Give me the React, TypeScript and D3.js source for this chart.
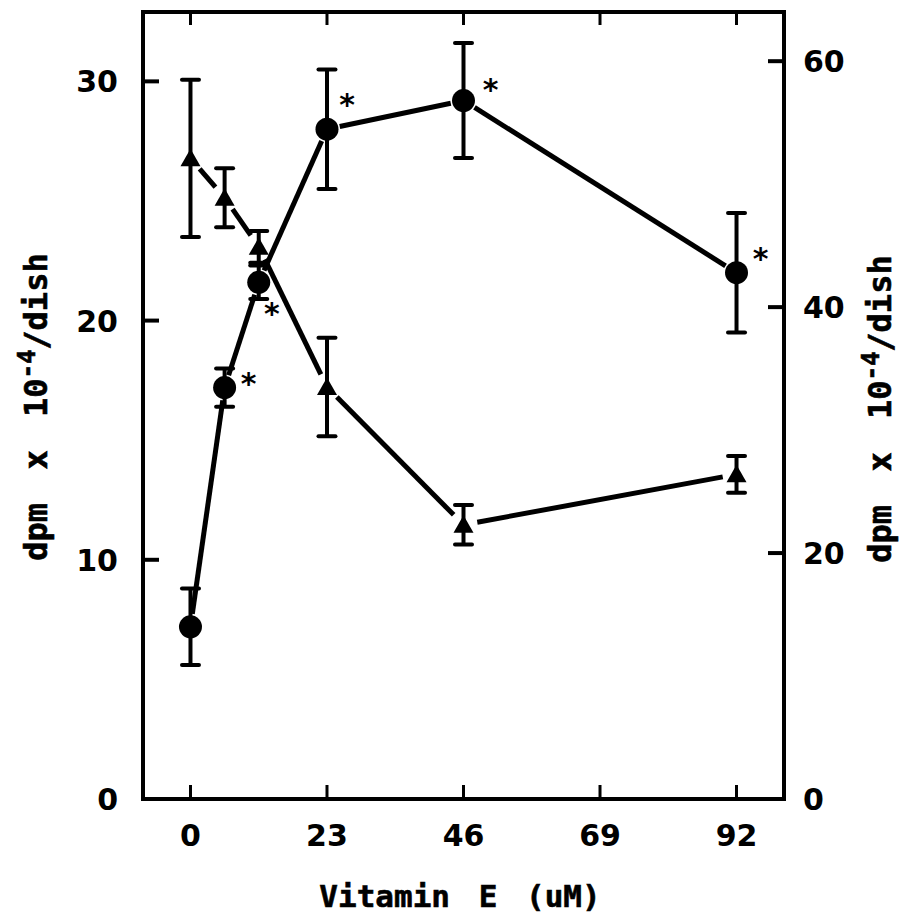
import React from "react";
import * as d3 from "d3";

// ---- data ----
const doses = [0, 5.75, 11.5, 23, 46, 92];
const circleMean = [7.2, 17.2, 21.6, 28.0, 29.2, 22.0]; // left axis
const circleErr = [1.6, 0.8, 0.7, 2.5, 2.4, 2.5];
const circleSig = [false, true, true, true, true, true];
const triMean = [52.1, 48.9, 44.9, 33.5, 22.3, 26.4]; // right axis
const triErr = [6.4, 2.4, 1.3, 4.0, 1.6, 1.5];
const xTicks = [0, 23, 46, 69, 92];
const yLeftTicks = [0, 10, 20, 30];
const yRightTicks = [0, 20, 40, 60];

const W = 904;
const H = 922;
const L = 143, R = 784, T = 12, B = 799;

const x = d3.scaleLinear().domain([-8, 100]).range([L, R]);
const yL = d3.scaleLinear().domain([0, 32.9]).range([B, T]);
const yR = d3.scaleLinear().domain([0, 64]).range([B, T]);

// asterisk offsets relative to the circle marker (px)
const starOffsets: [number, number][] = [
  [0, 0], [24, -12], [13, 24], [20, -32], [27, -19], [24, -22],
];

const TICK_FONT = "'DejaVu Sans', sans-serif";
const TITLE_FONT = "'DejaVu Sans Mono', 'DejaVu Sans', monospace";

function trimmedSegments(pts: [number, number][], gap: number) {
  const segs: string[] = [];
  for (let i = 0; i < pts.length - 1; i++) {
    const [x1, y1] = pts[i];
    const [x2, y2] = pts[i + 1];
    const dx = x2 - x1, dy = y2 - y1;
    const len = Math.hypot(dx, dy);
    if (len <= 2 * gap) continue;
    const ux = dx / len, uy = dy / len;
    const line = d3.line();
    segs.push(
      line([
        [x1 + ux * gap, y1 + uy * gap],
        [x2 - ux * gap, y2 - uy * gap],
      ]) as string
    );
  }
  return segs;
}

export default function App() {
  const cPts: [number, number][] = doses.map((d, i) => [x(d), yL(circleMean[i])]);
  const tPts: [number, number][] = doses.map((d, i) => [x(d), yR(triMean[i])]);
  const cSegs = trimmedSegments(cPts, 13);
  const tSegs = trimmedSegments(tPts, 14);
  const capW = 8.5;
  const triPath = (cx: number, cy: number) =>
    `M${cx},${cy - 9.5}L${cx + 10},${cy + 8}L${cx - 10},${cy + 8}Z`;

  const yTitle = (tx: number, ty: number) => (
    <text
      transform={`translate(${tx},${ty}) rotate(-90)`}
      textAnchor="middle"
      fontFamily={TITLE_FONT}
      fontWeight="bold"
      fontSize={32}
      wordSpacing={14}
      stroke="#000"
      strokeWidth={0.6}
    >
      dpm x 10
      <tspan fontSize={24} dy={-12}>-4</tspan>
      <tspan dy={12}>/dish</tspan>
    </text>
  );

  return (
    <svg
      width={W}
      height={H}
      style={{ position: "absolute", left: 0, top: 0, background: "#fff" }}
    >
      <rect x={0} y={0} width={W} height={H} fill="#fff" />
      {/* frame */}
      <rect x={L} y={T} width={R - L} height={B - T} fill="none" stroke="#000" strokeWidth={4} />

      {/* x ticks bottom & top */}
      {xTicks.map((t) => (
        <g key={"xt" + t}>
          <line x1={x(t)} x2={x(t)} y1={B} y2={B - 14} stroke="#000" strokeWidth={3} />
          <line x1={x(t)} x2={x(t)} y1={T} y2={T + 13} stroke="#000" strokeWidth={3} />
          <text
            x={x(t)}
            y={B + 47}
            textAnchor="middle"
            fontFamily={TICK_FONT}
            fontWeight="bold"
            fontSize={30}
          >
            {t}
          </text>
        </g>
      ))}
      {/* left ticks */}
      {yLeftTicks.map((t) => (
        <g key={"yl" + t}>
          <line x1={L} x2={L + 16} y1={yL(t)} y2={yL(t)} stroke="#000" strokeWidth={4} />
          <text
            x={118}
            y={yL(t) + 11}
            textAnchor="end"
            fontFamily={TICK_FONT}
            fontWeight="bold"
            fontSize={30}
          >
            {t}
          </text>
        </g>
      ))}
      {/* right ticks */}
      {yRightTicks.map((t) => (
        <g key={"yr" + t}>
          <line x1={R} x2={R - 16} y1={yR(t)} y2={yR(t)} stroke="#000" strokeWidth={4} />
          <text
            x={803}
            y={yR(t) + 11}
            textAnchor="start"
            fontFamily={TICK_FONT}
            fontWeight="bold"
            fontSize={30}
          >
            {t}
          </text>
        </g>
      ))}

      {/* lines */}
      {cSegs.map((d, i) => (
        <path key={"cs" + i} d={d} fill="none" stroke="#000" strokeWidth={5} />
      ))}
      {tSegs.map((d, i) => (
        <path key={"ts" + i} d={d} fill="none" stroke="#000" strokeWidth={5} />
      ))}

      {/* triangle error bars + markers */}
      {doses.map((d, i) => {
        const cx = x(d);
        const y1 = yR(triMean[i] + triErr[i]);
        const y2 = yR(triMean[i] - triErr[i]);
        return (
          <g key={"t" + i}>
            <line x1={cx} x2={cx} y1={y1} y2={y2} stroke="#000" strokeWidth={4} />
            <line x1={cx - capW} x2={cx + capW} y1={y1} y2={y1} stroke="#000" strokeWidth={4} strokeLinecap="round" />
            <line x1={cx - capW} x2={cx + capW} y1={y2} y2={y2} stroke="#000" strokeWidth={4} strokeLinecap="round" />
            <path d={triPath(cx, yR(triMean[i]))} fill="#000" />
          </g>
        );
      })}

      {/* circle error bars + markers */}
      {doses.map((d, i) => {
        const cx = x(d);
        const y1 = yL(circleMean[i] + circleErr[i]);
        const y2 = yL(circleMean[i] - circleErr[i]);
        const cy = yL(circleMean[i]);
        return (
          <g key={"c" + i}>
            <line x1={cx} x2={cx} y1={y1} y2={y2} stroke="#000" strokeWidth={4} />
            <line x1={cx - capW} x2={cx + capW} y1={y1} y2={y1} stroke="#000" strokeWidth={4} strokeLinecap="round" />
            <line x1={cx - capW} x2={cx + capW} y1={y2} y2={y2} stroke="#000" strokeWidth={4} strokeLinecap="round" />
            <circle cx={cx} cy={cy} r={11.5} fill="#000" />
            {circleSig[i] && (
              <text
                x={cx + starOffsets[i][0]}
                y={cy + starOffsets[i][1] + 18}
                textAnchor="middle"
                fontFamily={TICK_FONT}
                fontWeight="bold"
                fontSize={30}
              >
                *
              </text>
            )}
          </g>
        );
      })}

      {/* x title */}
      <text
        x={460}
        y={907}
        textAnchor="middle"
        fontFamily={TITLE_FONT}
        fontWeight="bold"
        fontSize={31}
        wordSpacing={10}
        stroke="#000"
        strokeWidth={0.6}
      >
        Vitamin E (uM)
      </text>

      {yTitle(47, 407)}
      {yTitle(891, 409)}
    </svg>
  );
}
